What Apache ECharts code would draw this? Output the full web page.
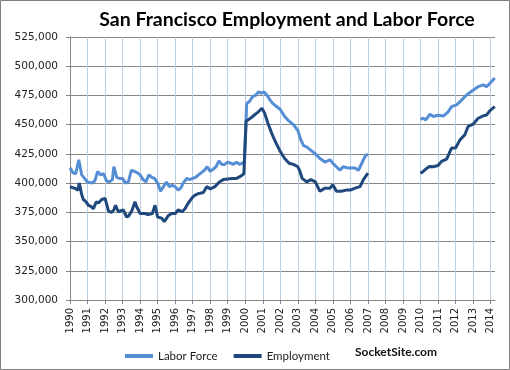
<!DOCTYPE html>
<html>
<head>
<meta charset="utf-8">
<script src="https://cdn.jsdelivr.net/npm/echarts@6/dist/echarts.min.js"></script>
<style>
html,body{margin:0;padding:0;background:#fff;}
#c{width:510px;height:370px;}
</style>
</head>
<body>
<div id="c"></div>
<script>
// ---- data ----
const titleText = 'San Francisco Employment and Labor Force';
const seriesNames = ['Labor Force', 'Employment'];
const yTicks = [300000, 325000, 350000, 375000, 400000, 425000, 450000, 475000, 500000, 525000];
const yearLabels = [1990,1991,1992,1993,1994,1995,1996,1997,1998,1999,2000,2001,2002,2003,2004,2005,2006,2007,2008,2009,2010,2011,2012,2013,2014];

const lfYears = [
 1990.00,1990.17,1990.33,1990.50,1990.67,1990.83,1991.00,1991.25,1991.42,1991.58,1991.75,1991.92,
 1992.08,1992.25,1992.42,1992.50,1992.67,1992.83,1993.00,1993.17,1993.33,1993.50,1993.67,1993.83,
 1994.00,1994.17,1994.33,1994.50,1994.67,1994.83,1995.00,1995.17,1995.33,1995.50,1995.67,1995.83,
 1996.00,1996.17,1996.33,1996.50,1996.67,1996.83,1997.00,1997.17,1997.33,1997.50,1997.67,1997.83,
 1998.00,1998.17,1998.33,1998.50,1998.67,1998.83,1999.00,1999.17,1999.33,1999.50,1999.67,1999.83,1999.95,
 2000.08,2000.25,2000.42,2000.58,2000.75,2000.92,2001.08,2001.25,2001.42,2001.58,2001.75,
 2002.00,2002.25,2002.50,2002.75,2003.00,2003.17,2003.33,2003.50,2003.75,2004.00,2004.26,2004.55,2004.83,
 2005.00,2005.20,2005.40,2005.58,2005.83,2006.00,2006.27,2006.46,2006.65,2006.84,2007.00,
 2008.50,
 2010.00,2010.15,2010.30,2010.54,2010.73,2011.00,2011.30,2011.58,2011.77,2012.06,2012.34,2012.63,
 2013.01,2013.29,2013.58,2013.77,2013.96,2014.24
];
const lfValues = [
 413000,409000,408000,420000,407000,404000,401000,400000,402000,410000,407000,408000,
 402000,401000,403000,414000,405000,404000,404000,400000,401000,411000,410000,409000,
 407000,403000,401000,407000,405000,404000,400000,393000,397000,401000,397000,398000,
 397000,394000,396000,401000,404000,403000,404000,405000,407000,409000,411000,414000,
 410000,412000,414000,419000,416000,416000,418000,417000,416000,418000,416000,417000,418000,
 468000,470000,474000,475000,478000,477000,478000,475000,471000,468000,466000,
 463000,457000,453000,450000,445000,437000,432000,431000,428000,425000,421000,418000,420000,
 417000,414000,411000,414000,413000,413000,413000,411000,417000,423000,425000,
 null,
 454600,455600,454000,459000,457000,458000,457400,461000,465400,467000,471000,475400,
 479600,482500,484000,482500,485400,490000
];

const empYears = [
 1990.00,1990.17,1990.29,1990.45,1990.53,1990.67,1990.76,1990.92,1991.05,1991.20,1991.33,1991.50,1991.62,1991.81,
 1992.00,1992.10,1992.20,1992.36,1992.50,1992.60,1992.76,1993.04,1993.23,1993.35,1993.52,1993.71,1993.80,
 1994.00,1994.28,1994.45,1994.70,1994.85,1995.00,1995.23,1995.38,1995.60,1995.80,
 1996.01,1996.17,1996.40,1996.56,1996.75,1997.00,1997.17,1997.32,1997.61,1997.80,
 1998.01,1998.27,1998.52,1998.75,1999.00,1999.25,1999.50,1999.75,1999.92,
 2000.05,2000.25,2000.42,2000.58,2000.75,2000.95,2001.10,2001.30,2001.50,2001.70,
 2002.00,2002.25,2002.50,2002.75,2003.00,2003.12,2003.25,2003.50,2003.75,2004.00,2004.26,2004.55,2004.83,
 2005.00,2005.20,2005.48,2005.77,2006.00,2006.27,2006.55,2006.74,2007.00,
 2008.50,
 2010.00,2010.15,2010.35,2010.54,2010.73,2011.00,2011.20,2011.49,2011.77,2012.00,2012.25,2012.53,2012.72,
 2013.01,2013.29,2013.58,2013.77,2013.96,2014.24
];
const empValues = [
 397000,396000,395500,394000,400000,390000,386000,384000,381000,380000,378000,384000,383000,386000,
 387000,388000,376000,375000,377000,381000,375500,377000,371000,372000,376000,384000,380000,
 374000,374000,373000,374000,381000,371000,370000,367000,372000,374000,
 374000,377000,375500,378000,383000,388000,390000,391000,392000,397000,
 395000,397000,401000,403000,403500,404000,404000,406000,408000,
 453000,455000,457000,459000,461000,464000,460000,451000,443000,436000,
 427000,421000,417000,416000,414000,410000,404000,401000,403000,401000,393000,395700,395700,
 398600,393000,393000,394000,394000,395700,397000,403000,408600,
 null,
 408400,410000,412700,414300,414000,415000,418600,420500,430000,430000,437000,441400,448600,
 450500,455500,457500,458300,462000,465400
];

// ---- chart ----
function pairs(xs, ys){ return xs.map((x,i)=>[x, ys[i]===null ? '-' : ys[i]]); }
const chart = echarts.init(document.getElementById('c'), null, {renderer:'canvas'});
const labelFont = 'DejaVu Sans';
chart.setOption({
  animation: false,
  backgroundColor: '#fff',
  title: {
    text: titleText, left: 282, top: 5, textAlign: 'center',
    textStyle: {fontFamily: 'Lato', fontWeight: 'bold', fontSize: 19.5, color: '#000'}
  },
  grid: {left: 70, right: 15, top: 37, bottom: 70},
  xAxis: {
    type: 'value', min: yearLabels[0], max: 2014.25, interval: 1,
    axisLine: {show: true, lineStyle: {color: '#868686', width: 1}},
    axisTick: {show: true, length: 4, lineStyle: {color: '#868686'}},
    axisLabel: {
      rotate: 90, margin: 8, fontFamily: labelFont, fontSize: 10, color: '#222',
      showMaxLabel: false,
      formatter: v => yearLabels.indexOf(Math.round(v)) >= 0 && Math.abs(v - Math.round(v)) < 1e-6 ? String(Math.round(v)) : ''
    },
    splitLine: {show: true, showMaxLine: false, lineStyle: {color: '#b9cde5', width: 1}}
  },
  yAxis: {
    type: 'value', min: yTicks[0], max: yTicks[yTicks.length-1], interval: 25000,
    axisLine: {show: true, lineStyle: {color: '#868686', width: 1}},
    axisTick: {show: true, length: 4, lineStyle: {color: '#868686'}},
    axisLabel: {
      margin: 12, fontFamily: labelFont, fontSize: 10.5, color: '#222',
      formatter: v => v.toLocaleString('en-US')
    },
    splitLine: {show: true, lineStyle: {color: '#868686', width: 1}}
  },
  legend: {
    left: 120, top: 345, itemGap: 16, itemWidth: 28, itemHeight: 4, icon: 'rect',
    textStyle: {fontFamily: 'Lato', fontSize: 11.5, color: '#222'},
    data: seriesNames
  },
  graphic: [
    {type: 'text', left: 355, top: 346, style: {text: 'SocketSite.com', font: 'bold 12px Lato', fill: '#111'}},
    {type: 'rect', shape: {x: 0.5, y: 0.5, width: 509, height: 369}, style: {fill: 'none', stroke: '#7f7f7f', lineWidth: 1}, silent: true, z: 100}
  ],
  series: [
    {name: seriesNames[0], type: 'line', data: pairs(lfYears, lfValues), showSymbol: false, symbol: 'none',
     connectNulls: false, lineStyle: {color: '#558ed5', width: 3}, itemStyle: {color: '#558ed5'}},
    {name: seriesNames[1], type: 'line', data: pairs(empYears, empValues), showSymbol: false, symbol: 'none',
     connectNulls: false, lineStyle: {color: '#1f497d', width: 3}, itemStyle: {color: '#1f497d'}}
  ]
});
</script>
</body>
</html>
